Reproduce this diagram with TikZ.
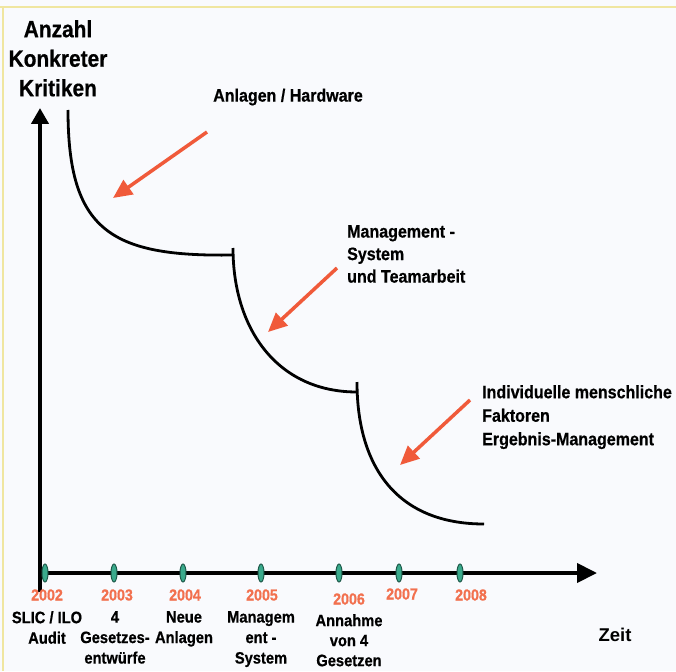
\documentclass[tikz,border=0pt]{standalone}
\usepackage{fontspec}
\setmainfont{Liberation Sans}
\newfontfamily\condfont[FakeStretch=0.89,FakeBold=0.6]{Liberation Sans}
\usetikzlibrary{arrows.meta,shapes.geometric}
\definecolor{bgc}{HTML}{F9FAFD}
\definecolor{bordc}{HTML}{F0E6A0}
\definecolor{arrc}{HTML}{F05A3A}
\definecolor{yearc}{HTML}{F2704E}
\definecolor{tickf}{HTML}{3AAA8C}
\definecolor{tickd}{HTML}{1E5A4A}
\tikzset{
  axisline/.style={line width=4pt,black},
  crv/.style={line width=2.8pt,black},
  hint/.style={line width=3.5pt,arrc,-{Triangle[length=19pt,width=17pt]}},
  tickmark/.style={ellipse,draw=tickd,fill=tickf,line width=1pt,minimum width=6pt,minimum height=18pt,inner sep=0pt},
  year/.style={font=\condfont\bfseries\fontsize{16}{18}\selectfont,text=yearc,inner sep=0pt},
  evlabel/.style={font=\condfont\bfseries\fontsize{16.5}{20.5}\selectfont,align=center,anchor=north,inner sep=0pt},
  note/.style={font=\condfont\bfseries\fontsize{18}{22.5}\selectfont,align=left,anchor=north west,inner sep=0pt},
}
\begin{document}
\begin{tikzpicture}[x=1pt,y=-1pt]
\useasboundingbox (0,0) rectangle (676,671);
\fill[bgc] (0,0) rectangle (676,671);
\draw[bordc,line width=2pt] (0,7) -- (676,7);
\draw[bordc,line width=2pt] (3,7) -- (3,671);

% axes
\coordinate (yb) at (40,592);
\coordinate (yt) at (40,108);
\coordinate (xl) at (38,573);
\coordinate (xr) at (597,573);
\draw[axisline,-{Triangle[length=16pt,width=17pt]}] (yb) -- (yt);
\draw[axisline,-{Triangle[length=20pt,width=19pt]}] (xl) -- (xr);

% axis titles
\node[font=\condfont\bfseries\fontsize{23.5}{29.5}\selectfont,align=center,anchor=north,inner sep=0pt] (ytitle) at (58,20) {Anzahl\\Konkreter\\Kritiken};
\node[font=\bfseries\fontsize{18.5}{20}\selectfont,inner sep=0pt] (xtitle) at (615,635) {Zeit};

% ticks
\node[tickmark] (t02) at (45,573) {};
\node[tickmark] (t03) at (114,573) {};
\node[tickmark] (t04) at (183,573) {};
\node[tickmark] (t05) at (261,573) {};
\node[tickmark] (t06) at (339,573) {};
\node[tickmark] (t07) at (399,573) {};
\node[tickmark] (t08) at (460,573) {};

% years
\node[year] (y02) at (47,595) {2002};
\node[year] (y03) at (117,595) {2003};
\node[year] (y04) at (185,595) {2004};
\node[year] (y05) at (262,595) {2005};
\node[year] (y06) at (349,599) {2006};
\node[year] (y07) at (402,594) {2007};
\node[year] (y08) at (471,595) {2008};

% event labels
\node[evlabel] (e02) at (47,611) {SLIC / ILO\\Audit};
\node[evlabel] (e03) at (115,611) {4\\Gesetzes-\\entwürfe};
\node[evlabel] (e04) at (184,611) {Neue\\Anlagen};
\node[evlabel] (e05) at (261,611) {Managem\\ent -\\System};
\node[evlabel,font=\condfont\bfseries\fontsize{16.5}{20}\selectfont] (e06) at (349,614) {Annahme\\von 4\\Gesetzen};

% curve
\coordinate (c1s) at (68,110);
\coordinate (c1e) at (233,255);
\coordinate (c2s) at (233,248);
\coordinate (c2e) at (357,392);
\coordinate (c3s) at (357,382);
\coordinate (c3e) at (484,524);
\draw[crv] (c1s) .. controls (68,230) and (110,257) .. (c1e);
\draw[crv] (c2s) .. controls (233,330) and (278,392) .. (c2e);
\draw[crv] (c3s) .. controls (357,468) and (398,524) .. (c3e);

% notes
\node[font=\condfont\bfseries\fontsize{18}{22}\selectfont,inner sep=0pt] (n1) at (288,97) {Anlagen / Hardware};
\node[note] (n2) at (347,225) {Management -\\System\\und Teamarbeit};
\node[note,font=\condfont\bfseries\fontsize{18}{23.5}\selectfont] (n3) at (482,385) {Individuelle menschliche\\Faktoren\\Ergebnis-Management};

% hint arrows
\coordinate (a1s) at (207,132); \coordinate (a1e) at (113,198);
\coordinate (a2s) at (337,268); \coordinate (a2e) at (268,332);
\coordinate (a3s) at (470,400); \coordinate (a3e) at (400,465);
\draw[hint] (a1s) -- (a1e);
\draw[hint] (a2s) -- (a2e);
\draw[hint] (a3s) -- (a3e);
\end{tikzpicture}
\end{document}
